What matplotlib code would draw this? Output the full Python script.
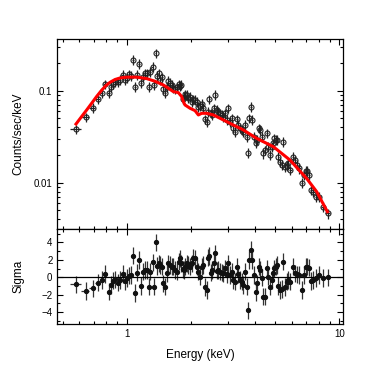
import matplotlib
matplotlib.use("Agg")
from matplotlib import pyplot as plt
from matplotlib.ticker import MultipleLocator, FuncFormatter, NullFormatter
import numpy as np

# spectrum data
energy = [0.576, 0.644, 0.694, 0.731, 0.763, 0.788, 0.823, 0.841, 0.860, 0.884,
          0.907, 0.930, 0.958, 0.982, 1.000, 1.025, 1.044, 1.071, 1.094, 1.121,
          1.146, 1.171, 1.197, 1.223, 1.242, 1.277, 1.290, 1.325, 1.348, 1.369,
          1.388, 1.414,
          1.435, 1.461, 1.487, 1.514, 1.542, 1.570, 1.599, 1.628, 1.657, 1.688,
          1.719, 1.762, 1.782, 1.801, 1.834, 1.860, 1.887, 1.915, 1.950, 1.986,
          2.021, 2.058, 2.096, 2.134, 2.173, 2.213, 2.253, 2.294, 2.336, 2.378,
          2.421, 2.448, 2.483, 2.528, 2.575, 2.603, 2.650, 2.698, 2.747, 2.797,
          2.849, 2.900, 2.953, 3.006, 3.062, 3.117, 3.174, 3.232, 3.290, 3.350,
          3.411, 3.474, 3.537, 3.601, 3.667, 3.733, 3.774, 3.829, 3.899, 3.970,
          4.042, 4.116, 4.193, 4.236, 4.314, 4.392, 4.472, 4.554, 4.637, 4.721,
          4.806, 4.894, 4.930, 5.019, 5.074, 5.166, 5.260, 5.356, 5.454, 5.553,
          5.654, 5.757, 5.861, 6.077, 6.187, 6.301, 6.485, 6.652, 6.823, 6.972,
          7.073, 7.202, 7.360, 7.547, 7.768, 8.054, 8.352, 8.814]

counts = [0.0380, 0.0514, 0.0654, 0.0806, 0.0937, 0.1175, 0.0951, 0.1105, 0.1175, 0.1230,
          0.1250, 0.1307, 0.1480, 0.1307, 0.1380, 0.1510, 0.1445, 0.2160, 0.1105, 0.1480,
          0.1950, 0.1200, 0.1420, 0.1545, 0.1545, 0.1105, 0.1610, 0.1825, 0.1153, 0.2550,
          0.1445, 0.1545,
          0.1306, 0.1396, 0.1034, 0.0935, 0.1105, 0.1274, 0.1222, 0.1152, 0.1078, 0.1034,
          0.1087, 0.1172, 0.1124, 0.1152, 0.0805, 0.0861, 0.0912, 0.0897, 0.0825, 0.0861,
          0.0760, 0.0805, 0.0792, 0.0760, 0.0670, 0.0681, 0.0716, 0.0653, 0.0488, 0.0460,
          0.0591, 0.0805, 0.0567, 0.0544, 0.0643, 0.0897, 0.0617, 0.0591, 0.0567, 0.0544,
          0.0522, 0.0567, 0.0480, 0.0643, 0.0460, 0.0500, 0.0390, 0.0358, 0.0488, 0.0423,
          0.0390, 0.0374, 0.0358, 0.0423, 0.0316, 0.0212, 0.0500, 0.0670, 0.0480, 0.0316,
          0.0268, 0.0291, 0.0390, 0.0374, 0.0316, 0.0208, 0.0226, 0.0344, 0.0246, 0.0200,
          0.0246, 0.0268, 0.0303, 0.0291, 0.0291, 0.0192, 0.0169, 0.0156, 0.0279, 0.0149,
          0.0152, 0.0162, 0.0137, 0.0192, 0.0176, 0.0156, 0.0143, 0.0100, 0.0121, 0.0135,
          0.0135, 0.0121, 0.00832, 0.00798, 0.00704, 0.00704, 0.00548, 0.00464]

sigma = [-0.80, -1.57, -1.26, -0.62, -0.31, 0.38, -1.65, -0.88, -0.39, -0.23,
         -0.62, -0.31, 0.38, -0.42, -0.11, 0.18, 0.26, 2.47, -1.83, 0.53,
         1.98, -0.99, 0.64, 0.83, 0.83, -1.07, 0.64, 1.71, -1.07, 4.00,
         1.29, 1.60,
         1.41, 1.22, -0.69, -1.07, 0.46, 1.60, 1.41, 1.22, 1.22, 0.84,
         0.65, 1.79, 2.17, 1.60, 0.91, 0.84, 1.22, 1.60, 1.41, 1.22,
         1.60, 2.25, 2.17, 1.22, 0.65, 0.08, 1.22, 1.41, -1.14, -1.45,
         2.25, 2.44, 0.53, 0.84, 1.60, 2.74, 0.76, 0.84, 0.65, 0.53,
         0.46, 1.03, 0.38, 1.60, 0.27, 0.65, -0.30, -0.50, 1.22, 0.38,
         -0.30, -0.50, -0.88, 0.65, -1.07, -3.81, 1.98, 3.12, 1.98, 0.27,
         -1.71, -0.69, 1.22, 0.84, -0.04, -2.21, -2.21, 1.03, 0.08, -1.07,
         -0.30, 0.46, 1.03, 1.22, 1.41, -0.99, -1.45, -1.37, 1.79, -1.14,
         -0.50, -0.30, -0.50, 1.22, 0.46, 0.34, 0.27, -1.45, 0.27, 1.22,
         1.22, 1.10, -0.42, -0.30, -0.11, 0.27, -0.11, 0.00]

count_err_frac = 0.12

model_energy = [0.578, 0.614, 0.649, 0.685, 0.723, 0.763, 0.800, 0.835, 0.882, 0.930,
                1.0, 1.114, 1.242, 1.359, 1.487, 1.657, 1.750, 1.814, 1.847, 1.880,
                1.986, 2.096, 2.173, 2.253, 2.378, 2.556, 2.849, 3.174, 3.537, 4.086,
                4.894, 5.861, 7.022, 7.825, 8.783]
model_counts = [0.0434, 0.0522, 0.0617, 0.0730, 0.0865, 0.1010, 0.1135, 0.1230, 0.1320, 0.1370,
                0.1400, 0.1400, 0.1350, 0.1263, 0.1152, 0.0975, 0.0951, 0.0861, 0.0760, 0.0699,
                0.0643, 0.0606, 0.0544, 0.0567, 0.0567, 0.0544, 0.0480, 0.0423, 0.0374, 0.0303,
                0.0246, 0.0176, 0.0111, 0.00798, 0.00484]

plt.rcParams['font.family'] = ['Liberation Sans', 'DejaVu Sans']

e = np.array(energy)
c = np.array(counts)
edges = np.sqrt(e[1:] * e[:-1])
lo = np.r_[e[0] - (edges[0] - e[0]), edges]
hi = np.r_[edges, e[-1] + (e[-1] - edges[-1])]
xerr = [e - lo, hi - e]

fig = plt.figure(figsize=(3.82, 3.82), dpi=100)
ax1 = fig.add_axes([0.150, 0.401, 0.747, 0.498])
ax2 = fig.add_axes([0.150, 0.152, 0.747, 0.249], sharex=ax1)

ax1.errorbar(e, c, yerr=c * count_err_frac, xerr=xerr, fmt='o', ms=3.6,
             mfc='none', mec='#222222', mew=0.8, ecolor='#222222', elinewidth=0.9,
             capsize=0, zorder=2)
ax1.plot(model_energy, model_counts, color='red', lw=2.2, zorder=3)
ax1.set_xscale('log')
ax1.set_yscale('log')
ax1.set_xlim(0.472, 10.36)
ax1.set_ylim(0.00316, 0.367)
ax1.set_ylabel('Counts/sec/keV', fontsize=8.5)
ax1.yaxis.set_label_coords(-0.115, 0.5)
ax1.yaxis.set_major_formatter(FuncFormatter(lambda v, p: f'{v:g}'))
ax1.yaxis.set_minor_formatter(NullFormatter())
plt.setp(ax1.get_xticklabels(), visible=False)

ax2.errorbar(e, sigma, yerr=1, xerr=xerr, fmt='o', ms=2.8, color='#111111',
             ecolor='#333333', elinewidth=0.9, capsize=0)
ax2.axhline(0, color='black', lw=0.9)
ax2.set_ylim(-5.35, 5.55)
ax2.yaxis.set_major_locator(MultipleLocator(2))
ax2.yaxis.set_minor_locator(MultipleLocator(1))
ax2.set_ylabel('Sigma', fontsize=8.5)
ax2.yaxis.set_label_coords(-0.115, 0.5)
ax2.set_xlabel('Energy (keV)', fontsize=8.5)
ax2.xaxis.set_label_coords(0.5, -0.26)
ax2.xaxis.set_major_formatter(FuncFormatter(lambda v, p: f'{v:g}'))
ax2.xaxis.set_minor_formatter(NullFormatter())

for ax in (ax1, ax2):
    ax.tick_params(which='both', direction='in', top=True, right=True, labelsize=7, width=0.8)
    ax.tick_params(which='major', length=4)
    ax.tick_params(which='minor', length=2.2)
    for s in ax.spines.values():
        s.set_linewidth(0.9)

fig.savefig('out.png', dpi=100)
